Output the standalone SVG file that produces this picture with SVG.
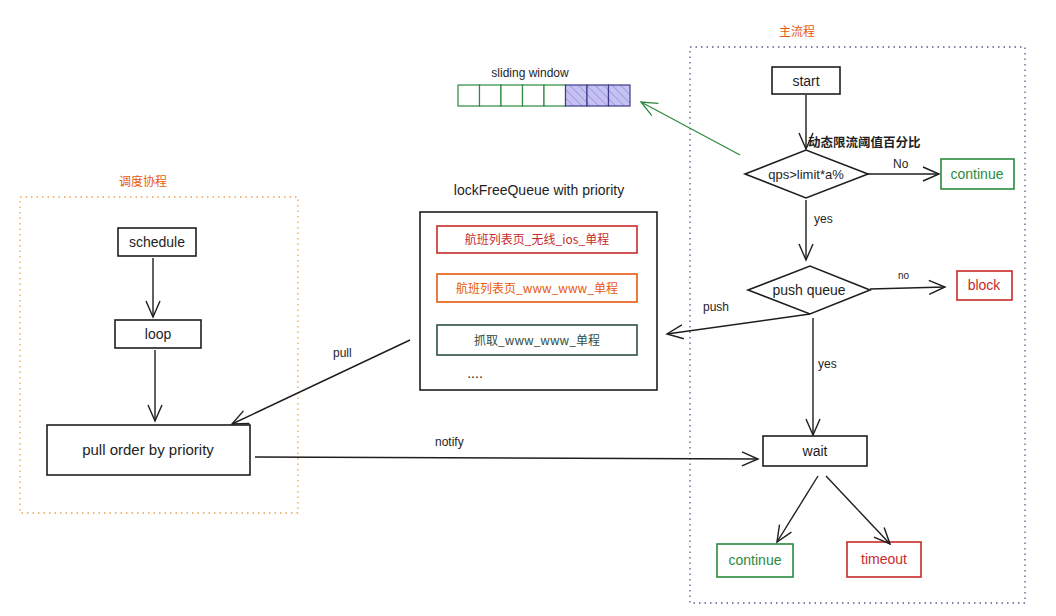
<svg xmlns="http://www.w3.org/2000/svg" width="1056" height="616" viewBox="0 0 1056 616">
<style>
  text { font-family: "Liberation Sans", "Noto Sans CJK SC", sans-serif; font-size: 14px; fill: #1e1e1e; }
  .c { text-anchor: middle; }
  .box { fill: #ffffff; stroke: #1e1e1e; stroke-width: 1.6; }
  .red { stroke: #c92a2a; }
  .green { stroke: #2b8a3e; }
  .orange { stroke: #e8590c; }
  .tred { fill: #c92a2a; }
  .tgreen { fill: #2b8a3e; }
  .torange { fill: #e8590c; }
  .frame { fill: none; stroke-width: 1.3; stroke-dasharray: 1.5 4; }
  .edge { fill: none; stroke: #1e1e1e; stroke-width: 1.4; marker-end: url(#arr); }
  .edgeg { fill: none; stroke: #2b8a3e; stroke-width: 1.2; marker-end: url(#arrg); }
  .small { font-size: 12px; }
  .zh { font-family: "Noto Sans CJK SC", sans-serif; font-size: 12px; }
</style>
<defs>
  <marker id="arr" viewBox="0 0 20 20" refX="18" refY="10" markerWidth="20" markerHeight="20" markerUnits="userSpaceOnUse" orient="auto">
    <path d="M2,3 L18,10 L2,17" fill="none" stroke="#1e1e1e" stroke-width="1.4"/>
  </marker>
  <marker id="arrg" viewBox="0 0 20 20" refX="18" refY="10" markerWidth="20" markerHeight="20" markerUnits="userSpaceOnUse" orient="auto">
    <path d="M2,3 L18,10 L2,17" fill="none" stroke="#2b8a3e" stroke-width="1.3"/>
  </marker>
  <pattern id="hatch" width="6" height="6" patternUnits="userSpaceOnUse" patternTransform="rotate(-45)">
    <rect width="6" height="6" fill="#c5c2f2"/>
    <line x1="0" y1="0" x2="0" y2="6" stroke="#8f88d8" stroke-width="1.3"/>
  </pattern>
</defs>

<g id="frame-main">
  <rect x="690" y="47" width="335" height="556" class="frame" stroke="#5a5a8a"/>
  <text x="797" y="36" class="zh c torange">主流程</text>
</g>
<g id="frame-schedule">
  <rect x="20" y="197" width="278" height="316" class="frame" stroke="#f0a050"/>
  <text x="143" y="186" class="zh c torange">调度协程</text>
</g>

<g id="start"><rect x="772" y="67" width="68" height="27" class="box"/><text x="806" y="86" class="c">start</text></g>
<g id="qps"><polygon points="745,174 806,150 868,174 806,198" class="box"/><text x="806" y="179" class="c" style="font-size:13px">qps&gt;limit*a%</text></g>
<g id="continue1"><rect x="941" y="159" width="73" height="30" class="box green"/><text x="977" y="179" class="c tgreen">continue</text></g>
<g id="pushqueue"><polygon points="748,290 810,266 870,290 810,314" class="box"/><text x="809" y="295" class="c">push queue</text></g>
<g id="block"><rect x="957" y="271" width="55" height="29" class="box red"/><text x="984" y="290" class="c tred">block</text></g>
<g id="wait"><rect x="763" y="436" width="104" height="30" class="box"/><text x="815" y="456" class="c">wait</text></g>
<g id="continue2"><rect x="717" y="544" width="76" height="33" class="box green"/><text x="755" y="565" class="c tgreen">continue</text></g>
<g id="timeout"><rect x="847" y="542" width="74" height="35" class="box red"/><text x="884" y="564" class="c tred">timeout</text></g>

<g id="sliding-window">
  <text x="530" y="77" class="c small">sliding window</text>
  <g stroke="#2b8a3e" stroke-width="1.2" fill="#ffffff">
    <rect x="458" y="85" width="21.5" height="21"/>
    <rect x="479.5" y="85" width="21.5" height="21"/>
    <rect x="501" y="85" width="21.5" height="21"/>
    <rect x="522.5" y="85" width="21.5" height="21"/>
    <rect x="544" y="85" width="21.5" height="21"/>
  </g>
  <g stroke="#3b3b8a" stroke-width="1.2" fill="url(#hatch)">
    <rect x="565.5" y="85" width="21.5" height="21"/>
    <rect x="587" y="85" width="21.5" height="21"/>
    <rect x="608.5" y="85" width="21.5" height="21"/>
  </g>
</g>

<g id="queue">
  <text x="539" y="195" class="c">lockFreeQueue with priority</text>
  <rect x="420" y="212" width="237" height="178" class="box"/>
  <rect x="437" y="226" width="200" height="27" class="box red"/>
  <text x="537" y="244" class="c zh tred">航班列表页_无线_ios_单程</text>
  <rect x="437" y="274" width="200" height="28" class="box orange"/>
  <text x="537" y="293" class="c zh torange">航班列表页_www_www_单程</text>
  <rect x="437" y="325" width="200" height="30" class="box" style="stroke:#2f4f3f"/>
  <text x="537" y="345" class="c zh" style="fill:#2f4f3f">抓取_www_www_单程</text>
  <text x="475" y="378" class="c">....</text>
</g>

<g id="schedule"><rect x="118" y="228" width="78" height="28" class="box"/><text x="157" y="247" class="c">schedule</text></g>
<g id="loop"><rect x="115" y="320" width="86" height="28" class="box"/><text x="158" y="339" class="c">loop</text></g>
<g id="pull-order"><rect x="47" y="425" width="203" height="50" class="box"/><text x="148" y="455" class="c" style="font-size:15px">pull order by priority</text></g>

<g id="connectors">
  <path d="M806,95 L806,149" class="edge"/>
  <text x="808" y="147" class="zh" style="font-weight:bold;font-size:12.5px">动态限流阈值百分比</text>
  <path d="M868,174 L939,174" class="edge"/>
  <text x="893" y="168" class="small">No</text>
  <path d="M806,200 L806,260" class="edge"/>
  <text x="814" y="223" class="small">yes</text>
  <path d="M870,289 L945,287" class="edge"/>
  <text x="898" y="279" class="small" style="font-size:10px">no</text>
  <path d="M813,318 L813,435" class="edge"/>
  <text x="818" y="368" class="small">yes</text>
  <path d="M818,476 L777,542" class="edge"/>
  <path d="M826,476 L890,544" class="edge"/>
  <path d="M810,314 L667,334" class="edge"/>
  <text x="703" y="311" class="small">push</text>
  <path d="M740,155 L641,102" class="edgeg"/>
  <path d="M410,340 L232,424" class="edge"/>
  <text x="333" y="357" class="small">pull</text>
  <path d="M255,457 L758,459" class="edge"/>
  <text x="435" y="446" class="small">notify</text>
  <path d="M153,258 L153,317" class="edge"/>
  <path d="M155,350 L155,421" class="edge"/>
</g>
</svg>
